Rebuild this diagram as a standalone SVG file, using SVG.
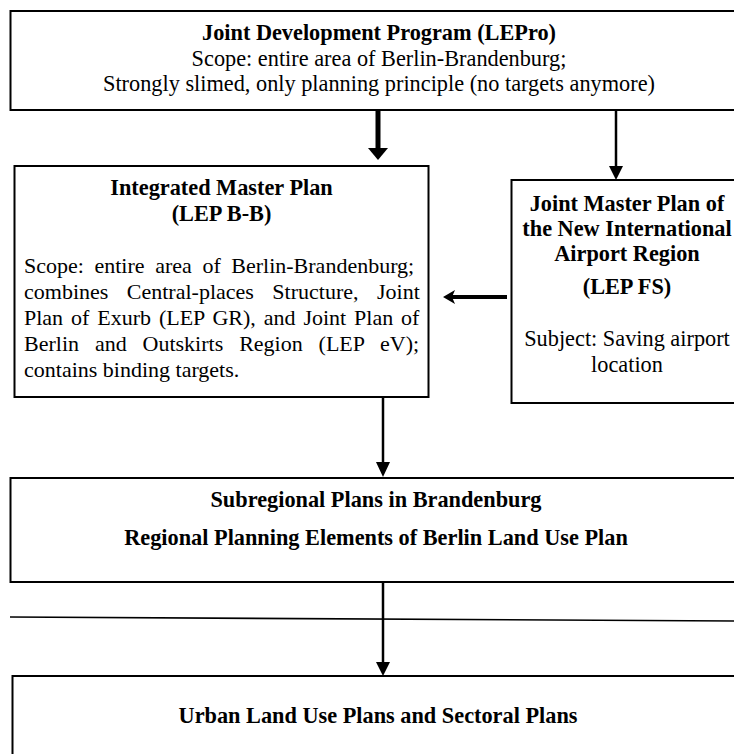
<svg xmlns="http://www.w3.org/2000/svg" width="734" height="754" viewBox="0 0 734 754">
<style>
.box{fill:#fff;stroke:#000;stroke-width:2}
.t{font-family:"Liberation Serif","Times New Roman",serif;fill:#000}
.b{font-weight:bold;font-size:22.3px;text-anchor:middle}
.r{font-size:22.3px}
.c{text-anchor:middle}
.ln{stroke:#000;fill:none}
.hd{fill:#000;stroke:none}
</style>
<rect width="734" height="754" fill="#fff"/>
<g id="node-lepro">
<rect class="box" x="10.5" y="11" width="740" height="99"/>
<text class="t b" x="379" y="40" font-size="22.5">Joint Development Program (LEPro)</text>
<text class="t r c" x="379" y="66" font-size="22.8">Scope: entire area of Berlin-Brandenburg;</text>
<text class="t r c" x="379" y="91" font-size="22.5">Strongly slimed, only planning principle (no targets anymore)</text>
</g>
<g id="node-lepbb">
<rect class="box" x="14.5" y="166" width="414" height="231"/>
<text class="t b" x="221.5" y="195">Integrated Master Plan</text>
<text class="t b" x="221.5" y="221">(LEP B-B)</text>
<text class="t" font-size="22px" x="24" y="273" word-spacing="5.1">Scope: entire area of Berlin-Brandenburg;</text>
<text class="t" font-size="22px" x="24" y="299" word-spacing="13">combines Central-places Structure, Joint</text>
<text class="t" font-size="22px" x="24" y="325" word-spacing="2.4">Plan of Exurb (LEP GR), and Joint Plan of</text>
<text class="t" font-size="22px" x="24" y="351" word-spacing="10.4">Berlin and Outskirts Region (LEP eV);</text>
<text class="t" font-size="22px" x="24" y="377">contains binding targets.</text>
</g>
<g id="node-lepfs">
<rect class="box" x="511.5" y="180" width="240" height="223"/>
<text class="t b" x="627" y="211">Joint Master Plan of</text>
<text class="t b" x="627" y="236">the New International</text>
<text class="t b" x="627" y="261">Airport Region</text>
<text class="t b" x="627" y="294">(LEP FS)</text>
<text class="t r c" x="627" y="346">Subject: Saving airport</text>
<text class="t r c" x="627" y="372">location</text>
</g>
<g id="node-subregional">
<rect class="box" x="10.5" y="478" width="740" height="104"/>
<text class="t b" x="376" y="507" font-size="22.5">Subregional Plans in Brandenburg</text>
<text class="t b" x="376" y="545" font-size="22.5">Regional Planning Elements of Berlin Land Use Plan</text>
</g>
<g id="node-urban">
<rect class="box" x="12.5" y="676" width="740" height="90"/>
<text class="t b" x="378" y="723" font-size="22.5">Urban Land Use Plans and Sectoral Plans</text>
</g>
<g id="connectors">
<line class="ln" x1="378" y1="110" x2="378" y2="150" stroke-width="5"/>
<polygon class="hd" points="368,148 388,148 378,160"/>
<line class="ln" x1="616" y1="110" x2="616" y2="168" stroke-width="2.5"/>
<polygon class="hd" points="609,166 623,166 616,180"/>
<line class="ln" x1="507" y1="297" x2="452" y2="297" stroke-width="4"/>
<polygon class="hd" points="443,297 455,290 452,297 455,304"/>
<line class="ln" x1="383" y1="398" x2="383" y2="464" stroke-width="2.5"/>
<polygon class="hd" points="376,462 390,462 383,477"/>
<line class="ln" x1="383" y1="583" x2="383" y2="664" stroke-width="2.5"/>
<polygon class="hd" points="376,662 390,662 383,676"/>
<line class="ln" x1="10" y1="617" x2="734" y2="621" stroke-width="1.6"/>
</g>
</svg>
